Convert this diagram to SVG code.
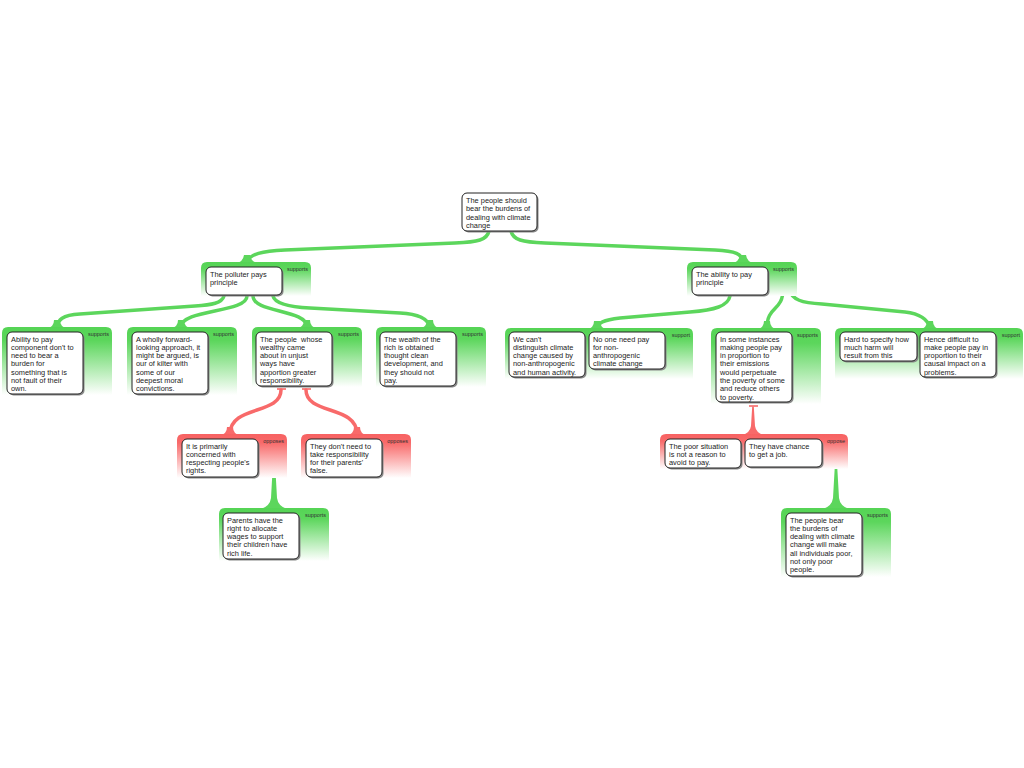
<svg xmlns="http://www.w3.org/2000/svg" width="1024" height="768" viewBox="0 0 1024 768">
<defs>
<linearGradient id="gG" x1="0" y1="0" x2="0" y2="1">
<stop offset="0" stop-color="#55d455"/>
<stop offset="0.2" stop-color="#5cd65c"/>
<stop offset="1" stop-color="#ffffff"/>
</linearGradient>
<linearGradient id="gR" x1="0" y1="0" x2="0" y2="1">
<stop offset="0" stop-color="#f76262"/>
<stop offset="0.2" stop-color="#f86a6a"/>
<stop offset="1" stop-color="#ffffff"/>
</linearGradient>
<style>
.cg{fill:url(#gG);}
.cr{fill:url(#gR);}
.card{fill:#fff;stroke:#222;stroke-width:1;}
.sh{fill:#888;}
.t{font-family:"Liberation Sans",Arial,sans-serif;font-size:7.4px;fill:#222;}
.lb{font-family:"Liberation Sans",Arial,sans-serif;font-size:5.5px;fill:#333;text-anchor:end;}
.lg{fill:none;stroke:#5cd65c;stroke-width:3.5;stroke-linecap:round;}
.lr{fill:none;stroke:#f86a6a;stroke-width:3.5;stroke-linecap:round;}
.fg{fill:#5cd65c;}
.fr{fill:#f86a6a;}
.tg{stroke:#5cd65c;stroke-width:1.6;}
.tr{stroke:#f86a6a;stroke-width:1.6;}
</style>
</defs>
<rect width="1024" height="768" fill="#fff"/>

<g id="connectors">
<path class="lg" d="M489,231 C487,240 478,242 455,243 L285,250 C262,251 250,254 247,262"/>
<path class="fg" d="M236,263 Q243,262 244,255 L250,255 Q251,262 258,263 Z"/>
<path class="lg" d="M511,231 C513,240 522,242 545,243 L715,250 C736,251 742,254 743,262"/>
<path class="fg" d="M732,263 Q739,262 740,255 L746,255 Q747,262 754,263 Z"/>

<path class="lg" d="M224,296 C222,303 212,305 195,306 L80,314 C62,315 58,320 57,327"/>
<path class="fg" d="M47,328 Q54,327 54,320 L60,320 Q60,327 67,328 Z"/>
<path class="lg" d="M247,296 C247,313 181,309 181,327"/>
<path class="fg" d="M171,328 Q178,327 178,320 L184,320 Q184,327 191,328 Z"/>
<path class="lg" d="M253,296 C253,313 307,309 307,327"/>
<path class="fg" d="M297,328 Q304,327 304,320 L310,320 Q310,327 317,328 Z"/>
<path class="lg" d="M273,296 C275,304 290,307 310,308 L400,313 C420,314 428,319 430,327"/>
<path class="fg" d="M420,328 Q427,327 427,320 L433,320 Q433,327 440,328 Z"/>

<path class="lg" d="M730,296 C728,306 715,310 690,312 L620,318 C603,320 598,323 597,328"/>
<path class="fg" d="M587,329 Q594,328 594,321 L600,321 Q600,328 607,329 Z"/>
<line class="tg" x1="777" y1="288.5" x2="794" y2="288.5"/>
<path class="lg" d="M783,289 C783,312 767,305 767,328"/>
<path class="fg" d="M757,329 Q764,328 764,321 L770,321 Q770,328 777,329 Z"/>
<path class="lg" d="M789,289 C792,300 802,303 822,304 L905,312 C922,314 928,320 930,328"/>
<path class="fg" d="M920,329 Q927,328 927,321 L933,321 Q933,328 940,329 Z"/>

<line class="tr" x1="277" y1="389" x2="286" y2="389"/>
<path class="lr" d="M281,390 C281,415 230,405 230,434"/>
<path class="fr" d="M220,435 Q227,434 227,427 L233,427 Q233,434 240,435 Z"/>
<line class="tr" x1="302" y1="389" x2="311" y2="389"/>
<path class="lr" d="M306,390 C306,415 357,405 357,434"/>
<path class="fr" d="M347,435 Q354,434 354,427 L360,427 Q360,434 367,435 Z"/>

<line class="tr" x1="749" y1="406" x2="758" y2="406"/>
<path class="fr" d="M752.2,406.5 L753.8,406.5 L755,426 Q756,433 764,435 L742,435 Q750,433 751,426 Z"/>

<line class="tg" x1="269" y1="461.5" x2="279" y2="461.5"/>
<path class="fg" d="M273,462 L275,462 L277,498 Q278,506 287,509 L261,509 Q270,506 271,498 Z"/>
<line class="tg" x1="831" y1="462.5" x2="841" y2="462.5"/>
<path class="fg" d="M835,463 L837,463 L839,498 Q840,506 849,509 L823,509 Q832,506 833,498 Z"/>
</g>

<g id="n-root">
<rect class="sh" x="463.5" y="194.5" width="75" height="38" rx="5"/>
<rect class="card" x="462" y="193" width="75" height="38" rx="5"/>
<text class="t" x="466" y="203">The people should</text>
<text class="t" x="466" y="211.4">bear the burdens of</text>
<text class="t" x="466" y="219.8">dealing with climate</text>
<text class="t" x="466" y="228.2">change</text>
</g>

<g id="n-polluter">
<path class="cg" d="M201,296 L201,268 Q201,262 207,262 L305,262 Q311,262 311,268 L311,296 Z"/>
<text class="lb" x="308" y="271">supports</text>
<rect class="sh" x="207.5" y="268.5" width="76" height="28" rx="5"/>
<rect class="card" x="206" y="267" width="76" height="28" rx="5"/>
<text class="t" x="210" y="277">The polluter pays</text>
<text class="t" x="210" y="285.3">principle</text>
</g>

<g id="n-ability">
<path class="cg" d="M687,296 L687,268 Q687,262 693,262 L791,262 Q797,262 797,268 L797,296 Z"/>
<text class="lb" x="794" y="271">supports</text>
<rect class="sh" x="693.5" y="268.5" width="76" height="28" rx="5"/>
<rect class="card" x="692" y="267" width="76" height="28" rx="5"/>
<text class="t" x="696" y="277">The ability to pay</text>
<text class="t" x="696" y="285.3">principle</text>
</g>

<g id="n-ability-component">
<path class="cg" d="M2,395 L2,333 Q2,327 8,327 L106,327 Q112,327 112,333 L112,395 Z"/>
<text class="lb" x="109" y="336">supports</text>
<rect class="sh" x="8.5" y="333.5" width="76" height="62" rx="5"/>
<rect class="card" x="7" y="332" width="76" height="62" rx="5"/>
<text class="t" x="11" y="341.5">Ability to pay</text>
<text class="t" x="11" y="349.8">component don't to</text>
<text class="t" x="11" y="358.1">need to bear a</text>
<text class="t" x="11" y="366.4">burden for</text>
<text class="t" x="11" y="374.7">something that is</text>
<text class="t" x="11" y="383">not fault of their</text>
<text class="t" x="11" y="391.3">own.</text>
</g>

<g id="n-forward-looking">
<path class="cg" d="M127,395 L127,333 Q127,327 133,327 L231,327 Q237,327 237,333 L237,395 Z"/>
<text class="lb" x="234" y="336">supports</text>
<rect class="sh" x="133.5" y="333.5" width="76" height="62" rx="5"/>
<rect class="card" x="132" y="332" width="76" height="62" rx="5"/>
<text class="t" x="136" y="341.5">A wholly forward-</text>
<text class="t" x="136" y="349.8">looking approach, it</text>
<text class="t" x="136" y="358.1">might be argued, is</text>
<text class="t" x="136" y="366.4">our of kilter with</text>
<text class="t" x="136" y="374.7">some of our</text>
<text class="t" x="136" y="383">deepest moral</text>
<text class="t" x="136" y="391.3">convictions.</text>
</g>

<g id="n-unjust-wealth">
<path class="cg" d="M252,387 L252,333 Q252,327 258,327 L356,327 Q362,327 362,333 L362,387 Z"/>
<text class="lb" x="359" y="336">supports</text>
<rect class="sh" x="257.5" y="333.5" width="76" height="54" rx="5"/>
<rect class="card" x="256" y="332" width="76" height="54" rx="5"/>
<text class="t" x="260" y="341.5" xml:space="preserve">The people  whose</text>
<text class="t" x="260" y="349.8">wealthy came</text>
<text class="t" x="260" y="358.1">about in unjust</text>
<text class="t" x="260" y="366.4">ways have</text>
<text class="t" x="260" y="374.7">apportion greater</text>
<text class="t" x="260" y="383">responsibility.</text>
</g>

<g id="n-clean-development">
<path class="cg" d="M376,387 L376,333 Q376,327 382,327 L480,327 Q486,327 486,333 L486,387 Z"/>
<text class="lb" x="483" y="336">supports</text>
<rect class="sh" x="381.5" y="333.5" width="76" height="54" rx="5"/>
<rect class="card" x="380" y="332" width="76" height="54" rx="5"/>
<text class="t" x="384" y="341.5">The wealth of the</text>
<text class="t" x="384" y="349.8">rich is obtained</text>
<text class="t" x="384" y="358.1">thought clean</text>
<text class="t" x="384" y="366.4">development, and</text>
<text class="t" x="384" y="374.7">they should not</text>
<text class="t" x="384" y="383">pay.</text>
</g>

<g id="n-rights">
<path class="cr" d="M177,478 L177,440 Q177,434 183,434 L281,434 Q287,434 287,440 L287,478 Z"/>
<text class="lb" x="284" y="443">opposes</text>
<rect class="sh" x="183.5" y="440.5" width="76" height="38" rx="5"/>
<rect class="card" x="182" y="439" width="76" height="38" rx="5"/>
<text class="t" x="186" y="448.5">It is primarily</text>
<text class="t" x="186" y="456.8">concerned with</text>
<text class="t" x="186" y="465.1">respecting people's</text>
<text class="t" x="186" y="473.4">rights.</text>
</g>

<g id="n-parents-false">
<path class="cr" d="M301,478 L301,440 Q301,434 307,434 L405,434 Q411,434 411,440 L411,478 Z"/>
<text class="lb" x="408" y="443">opposes</text>
<rect class="sh" x="307.5" y="440.5" width="76" height="38" rx="5"/>
<rect class="card" x="306" y="439" width="76" height="38" rx="5"/>
<text class="t" x="310" y="448.5">They don't need to</text>
<text class="t" x="310" y="456.8">take responsibility</text>
<text class="t" x="310" y="465.1">for their parents'</text>
<text class="t" x="310" y="473.4">false.</text>
</g>

<g id="n-parents-right">
<path class="cg" d="M219,561 L219,514 Q219,508 225,508 L323,508 Q329,508 329,514 L329,561 Z"/>
<text class="lb" x="326" y="517">supports</text>
<rect class="sh" x="224.5" y="514.5" width="76" height="46" rx="5"/>
<rect class="card" x="223" y="513" width="76" height="46" rx="5"/>
<text class="t" x="227" y="522.5">Parents have the</text>
<text class="t" x="227" y="530.8">right to allocate</text>
<text class="t" x="227" y="539.1">wages to support</text>
<text class="t" x="227" y="547.4">their children have</text>
<text class="t" x="227" y="555.7">rich life.</text>
</g>

<g id="n-non-anthropogenic">
<path class="cg" d="M505,379 L505,334 Q505,328 511,328 L687,328 Q693,328 693,334 L693,379 Z"/>
<text class="lb" x="690" y="337">support</text>
<rect class="sh" x="510.5" y="333.5" width="76" height="45" rx="5"/>
<rect class="card" x="509" y="332" width="76" height="45" rx="5"/>
<text class="t" x="513" y="341.5">We can't</text>
<text class="t" x="513" y="349.8">distinguish climate</text>
<text class="t" x="513" y="358.1">change caused by</text>
<text class="t" x="513" y="366.4">non-anthropogenic</text>
<text class="t" x="513" y="374.7">and human activity.</text>
<rect class="sh" x="590.5" y="333.5" width="76" height="37" rx="5"/>
<rect class="card" x="589" y="332" width="76" height="37" rx="5"/>
<text class="t" x="593" y="341.5">No one need pay</text>
<text class="t" x="593" y="349.8">for non-</text>
<text class="t" x="593" y="358.1">anthropogenic</text>
<text class="t" x="593" y="366.4">climate change</text>
</g>

<g id="n-poverty">
<path class="cg" d="M711,404 L711,334 Q711,328 717,328 L815,328 Q821,328 821,334 L821,404 Z"/>
<text class="lb" x="818" y="337">supports</text>
<rect class="sh" x="717.5" y="333.5" width="76" height="70" rx="5"/>
<rect class="card" x="716" y="332" width="76" height="70" rx="5"/>
<text class="t" x="720" y="341.5">In some instances</text>
<text class="t" x="720" y="349.8">making people pay</text>
<text class="t" x="720" y="358.1">in proportion to</text>
<text class="t" x="720" y="366.4">their emissions</text>
<text class="t" x="720" y="374.7">would perpetuate</text>
<text class="t" x="720" y="383">the poverty of some</text>
<text class="t" x="720" y="391.3">and reduce others</text>
<text class="t" x="720" y="399.6">to poverty.</text>
</g>

<g id="n-harm">
<path class="cg" d="M835,379 L835,334 Q835,328 841,328 L1017,328 Q1023,328 1023,334 L1023,379 Z"/>
<text class="lb" x="1020" y="337">support</text>
<rect class="sh" x="841.5" y="333.5" width="77" height="29" rx="5"/>
<rect class="card" x="840" y="332" width="77" height="29" rx="5"/>
<text class="t" x="844" y="341.5">Hard to specify how</text>
<text class="t" x="844" y="349.8">much harm will</text>
<text class="t" x="844" y="358.1">result from this</text>
<rect class="sh" x="921.5" y="333.5" width="76" height="45" rx="5"/>
<rect class="card" x="920" y="332" width="76" height="45" rx="5"/>
<text class="t" x="924" y="341.5">Hence difficult to</text>
<text class="t" x="924" y="349.8">make people pay in</text>
<text class="t" x="924" y="358.1">proportion to their</text>
<text class="t" x="924" y="366.4">causal impact on a</text>
<text class="t" x="924" y="374.7">problems.</text>
</g>

<g id="n-poor-situation">
<path class="cr" d="M660,469 L660,440 Q660,434 666,434 L842,434 Q848,434 848,440 L848,469 Z"/>
<text class="lb" x="845" y="443">oppose</text>
<rect class="sh" x="666.5" y="440.5" width="76" height="29" rx="5"/>
<rect class="card" x="665" y="439" width="76" height="29" rx="5"/>
<text class="t" x="669" y="448.5">The poor situation</text>
<text class="t" x="669" y="456.8">is not a reason to</text>
<text class="t" x="669" y="465.1">avoid to pay.</text>
<rect class="sh" x="746.5" y="440.5" width="77" height="28" rx="5"/>
<rect class="card" x="745" y="439" width="77" height="28" rx="5"/>
<text class="t" x="749" y="448.5">They have chance</text>
<text class="t" x="749" y="456.8">to get a job.</text>
</g>

<g id="n-all-poor">
<path class="cg" d="M781,577 L781,514 Q781,508 787,508 L885,508 Q891,508 891,514 L891,577 Z"/>
<text class="lb" x="888" y="517">supports</text>
<rect class="sh" x="787.5" y="514.5" width="76" height="63" rx="5"/>
<rect class="card" x="786" y="513" width="76" height="63" rx="5"/>
<text class="t" x="790" y="522.5">The people bear</text>
<text class="t" x="790" y="530.8">the burdens of</text>
<text class="t" x="790" y="539.1">dealing with climate</text>
<text class="t" x="790" y="547.4">change will make</text>
<text class="t" x="790" y="555.7">all individuals poor,</text>
<text class="t" x="790" y="564">not only poor</text>
<text class="t" x="790" y="572.3">people.</text>
</g>
</svg>
